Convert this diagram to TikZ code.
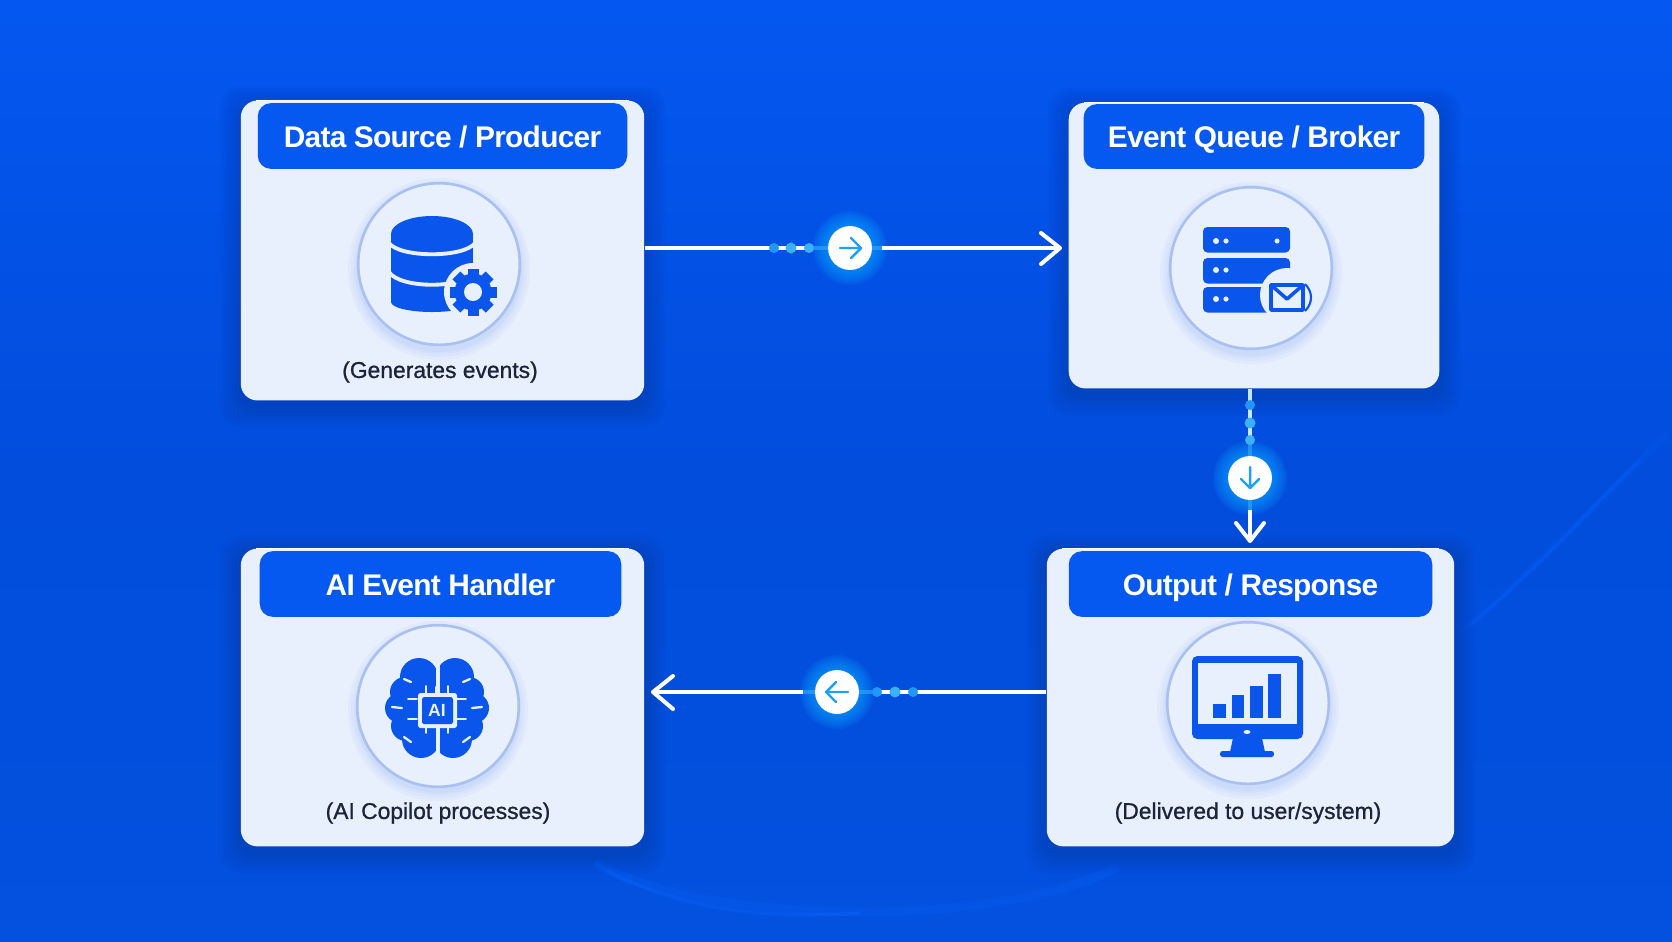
\documentclass[tikz,border=0pt]{standalone}
\usepackage{fontspec}
\setmainfont{Liberation Sans}
\newfontfamily\headfont[LetterSpace=-2.4]{Liberation Sans}
\newfontfamily\descfont[FakeBold=0.9]{Liberation Sans}
\usetikzlibrary{calc}
\definecolor{bgtop}{HTML}{0457F0}
\definecolor{bgmid}{HTML}{024DDC}
\definecolor{bgbot}{HTML}{0351DE}
\definecolor{streak}{HTML}{0A64FF}
\definecolor{boxfill}{HTML}{E8EFFD}
\definecolor{headblue}{HTML}{0558F0}
\definecolor{iconblue}{HTML}{0A56EC}
\definecolor{ringblue}{HTML}{A9C1F2}
\definecolor{dotone}{HTML}{2198F9}
\definecolor{dottwo}{HTML}{3DB0FB}
\definecolor{arrowcyan}{HTML}{1EA0F5}
\definecolor{glowblue}{HTML}{0A9CFF}
\definecolor{darktext}{HTML}{1B2438}
\definecolor{shadownavy}{HTML}{02236E}
\tikzset{
    cardbox/.style={rectangle,rounded corners=9.5pt,fill=boxfill,inner sep=0pt},
    headbox/.style={rectangle,rounded corners=7.5pt,fill=headblue,text=white,inner sep=0pt,text height=13pt,text depth=0pt,font=\fontsize{17pt}{20pt}\headfont\bfseries},
    desctext/.style={text=darktext,inner sep=0pt,text height=10.5pt,text depth=2.6pt,font=\fontsize{13pt}{14pt}\descfont},
    iconring/.style={circle,fill=boxfill,draw=ringblue,line width=1.5pt,inner sep=0pt,minimum size=92pt},
    badge/.style={circle,fill=white,inner sep=0pt,minimum size=25pt},
    flowline/.style={draw=white,line width=1.9pt},
    flowfade/.style={draw=dottwo,line width=1.9pt,opacity=0.55},
    flowtip/.style={draw=white,line width=2.3pt,line cap=round,line join=round},
    badgetip/.style={draw=arrowcyan,line width=1.4pt,line cap=round,line join=round},
    whiteline/.style={draw=boxfill,line cap=round,line width=1.3pt}
}
% soft shadow of a card
\newcommand{\cardshadow}[4]{%
    \foreach \g in {2,4,...,20}
        \fill[shadownavy,opacity=0.022,rounded corners=11pt] (#1-\g,#2-\g+6) rectangle (#3+\g,#4+\g+6);
}
\newcommand{\ringshadow}[3]{%
    \foreach \g in {10,7,4,2}
        \fill[iconblue,opacity=0.03] (#1,#2+5) circle ({#3+\g});
}
\newcommand{\badgeglow}[2]{%
    \foreach \g in {37,35,...,23}
        \fill[glowblue,opacity=0.13] (#1,#2) circle (\g);
}
\begin{document}
\begin{tikzpicture}[x=0.02cm,y=-0.02cm]
    \useasboundingbox (0,0) rectangle (1672,941);
    % background
    \shade[top color=bgtop,bottom color=bgbot,middle color=bgmid] (0,0) rectangle (1672,941);
    \draw[streak,opacity=0.18,line width=4pt] (1462,632) .. controls (1530,575) and (1600,500) .. (1668,434);
    \draw[streak,opacity=0.35,line width=1.5pt] (1470,625) .. controls (1530,575) and (1590,510) .. (1640,460);
    \draw[streak,opacity=0.25,line width=5pt] (595,863) .. controls (700,925) and (1000,930) .. (1118,867);
    \draw[streak,opacity=0.35,line width=2pt] (595,863) .. controls (670,910) and (770,920) .. (860,913);

    % shadows
    \cardshadow{240}{100}{645}{401}
    \cardshadow{1068}{102}{1440}{389}
    \cardshadow{240}{548}{645}{847}
    \cardshadow{1046}{548}{1455}{847}

    % cards
    \node[cardbox,minimum width=229.6pt,minimum height=170.7pt] (source) at (442.5,250.5) {};
    \node[cardbox,minimum width=210.9pt,minimum height=162.7pt] (queue) at (1254,245.5) {};
    \node[cardbox,minimum width=229.6pt,minimum height=169.5pt] (handler) at (442.5,697.5) {};
    \node[cardbox,minimum width=231.9pt,minimum height=169.5pt] (output) at (1250.5,697.5) {};
    \draw[white,line width=1pt] (256,100.5) -- (629,100.5);
    \draw[white,line width=1pt] (1084,102.5) -- (1424,102.5);
    \draw[white,line width=1pt] (256,548.5) -- (629,548.5);
    \draw[white,line width=1pt] (1062,548.5) -- (1439,548.5);

    % headers
    \node[headbox,minimum width=210.3pt,minimum height=37.4pt] (sourcehead) at (442.5,136) {Data Source / Producer};
    \node[headbox,minimum width=193.9pt,minimum height=36.9pt] (queuehead) at (1254,136.5) {Event Queue / Broker};
    \node[headbox,minimum width=205.8pt,minimum height=37.4pt] (handlerhead) at (440.5,584) {AI Event Handler};
    \node[headbox,minimum width=206.9pt,minimum height=37.4pt] (outputhead) at (1250.5,584) {Output / Response};

    % rings
    \ringshadow{439}{264}{81}
    \ringshadow{1251}{268}{81}
    \ringshadow{438}{706}{80}
    \ringshadow{1248}{703}{81}
    \node[iconring] (sourcering) at (439,264) {};
    \node[iconring] (queuering) at (1251,268) {};
    \node[iconring] (handlerring) at (438,706) {};
    \node[iconring] (outputring) at (1248,703) {};

    % descriptions
    \node[desctext] (sourcetext) at (440,371) {(Generates events)};
    \node[desctext] (handlertext) at (438,812) {(AI Copilot processes)};
    \node[desctext] (outputtext) at (1248,812) {(Delivered to user/system)};

    % database icon
    \fill[iconblue] (391,234) rectangle (473,302);
    \fill[iconblue] (432,234) ellipse (41 and 18);
    \fill[iconblue] (432,302) ellipse (41 and 10);
    \draw[boxfill,line width=2.2pt] (389,243) .. controls (400,258) and (464,258) .. (475,243);
    \draw[boxfill,line width=2.2pt] (389,272) .. controls (400,289) and (464,289) .. (475,272);
    \fill[boxfill] (473,292) circle (29);
    \foreach \a in {0,45,...,315}
        \fill[iconblue,rotate around={\a:(473,292)}] (467.5,268.5) rectangle (478.5,280);
    \fill[iconblue] (473,292) circle (18.5);
    \fill[boxfill] (473,292) circle (9);

    % server icon
    \foreach \y in {227,258,287}
        \fill[iconblue,rounded corners=2.5pt] (1203,\y) rectangle (1290,\y+25.5);
    \foreach \y in {241,270,299}{
        \fill[boxfill] (1216,\y) circle (3);
        \fill[boxfill] (1226,\y) circle (2.6);
    }
    \fill[boxfill] (1277,241) circle (2.5);
    \fill[boxfill] (1287,295) circle (27);
    \draw[iconblue,line width=2pt,line join=round] (1271,285) rectangle (1303,310);
    \draw[iconblue,line width=2pt,line join=round] (1271,285) -- (1287,299) -- (1303,285);
    \draw[iconblue,line width=1.2pt] (1305,284) .. controls (1313,292) and (1313,303) .. (1305,311);

    % brain icon
    \foreach \s in {-1,1}{
        \fill[iconblue] ({437+\s*18},677) circle (19);
        \fill[iconblue] ({437+\s*32},692) circle (15);
        \fill[iconblue] ({437+\s*37},708) circle (15);
        \fill[iconblue] ({437+\s*31},726) circle (15);
        \fill[iconblue] ({437+\s*16},739) circle (19);
        \fill[iconblue] ({437+\s*2},670) rectangle ({437+\s*28},745);
        \draw[whiteline] ({437+\s*35},708) -- ({437+\s*45},707);
        \draw[whiteline] ({437+\s*26},682) -- ({437+\s*33},679);
        \draw[whiteline] ({437+\s*26},742) -- ({437+\s*33},737);
        \foreach \y in {699,719}
            \draw[whiteline,line width=0.9pt] ({437+\s*20},\y) -- ({437+\s*29},\y);
        \foreach \y in {686,733}
            \draw[whiteline,line width=0.9pt] ({437+\s*11},\y) -- ({437+\s*11},{\y+(\y==686 ? 8 : -8)});
    }
    \fill[boxfill] (435.5,658) rectangle (439.5,694);
    \fill[boxfill] (435.5,727) rectangle (439.5,758);
    \fill[boxfill,rounded corners=1.5pt] (418,693) rectangle (457,728);
    \fill[iconblue,rounded corners=1pt] (422,697) rectangle (453,724);
    \node[text=boxfill,inner sep=0pt,font=\fontsize{10pt}{10pt}\selectfont\bfseries] (chiplabel) at (437,710) {AI};

    % monitor icon
    \fill[iconblue,rounded corners=3pt] (1192,656) rectangle (1303,739);
    \fill[boxfill] (1198,663) rectangle (1297,724);
    \fill[iconblue] (1213,704) rectangle (1226,718);
    \fill[iconblue] (1232,695) rectangle (1244,718);
    \fill[iconblue] (1250,686) rectangle (1263,718);
    \fill[iconblue] (1268,674) rectangle (1281,718);
    \fill[boxfill] (1247,732) ellipse (3.5 and 2);
    \fill[iconblue] (1233,738) -- (1262,738) -- (1265,752) -- (1230,752) -- cycle;
    \fill[iconblue,rounded corners=1.5pt] (1220,751) rectangle (1274,757);

    % badges
    \badgeglow{850}{248}
    \badgeglow{1250}{478}
    \badgeglow{837}{692}
    \node[badge] (badgeone) at (850,248) {};
    \node[badge] (badgetwo) at (1250,478) {};
    \node[badge] (badgethree) at (837,692) {};

    % connectors
    \draw[flowline] (source.east |- badgeone) -- (809,248);
    \draw[flowfade] (809,248) -- (badgeone.west);
    \draw[flowfade] (badgeone.east) -- (882,248);
    \draw[flowline] (882,248) -- (1060,248);
    \draw[flowtip] (1041,233) -- (1060,248) -- (1041,264);
    \draw[flowline,draw=white!70!dottwo] (queue.south -| badgetwo) -- (1250,440);
    \draw[flowfade] (1250,440) -- (badgetwo.north);
    \draw[flowfade] (badgetwo.south) -- (1250,510);
    \draw[flowline] (1250,510) -- (1250,540);
    \draw[flowtip] (1236,523) -- (1250,541) -- (1264,523);
    \draw[flowline] (output.west |- badgethree) -- (877,692);
    \draw[flowfade] (877,692) -- (badgethree.east);
    \draw[flowfade] (badgethree.west) -- (803,692);
    \draw[flowline] (803,692) -- (653,692);
    \draw[flowtip] (673,676) -- (653,692) -- (673,709);

    % dots
    \foreach \x/\c/\r in {774/dotone/5,791/dottwo/5.5,809/dottwo/5}
        \fill[\c] (\x,248) circle (\r);
    \foreach \y/\c/\r in {405/dotone/5,423/dottwo/5.5,440/dottwo/5}
        \fill[\c] (1250,\y) circle (\r);
    \foreach \x/\c/\r in {877/dotone/5,895/dottwo/5.5,913/dotone/5}
        \fill[\c] (\x,692) circle (\r);

    % arrows inside badges
    \draw[badgetip] (840,248) -- (860,248) (851,238) -- (861,248) -- (851,258);
    \draw[badgetip] (1250,467) -- (1250,488) (1241,479) -- (1250,488) -- (1259,479);
    \draw[badgetip] (848,692) -- (827,692) (836,682) -- (826,692) -- (836,702);
\end{tikzpicture}
\end{document}
